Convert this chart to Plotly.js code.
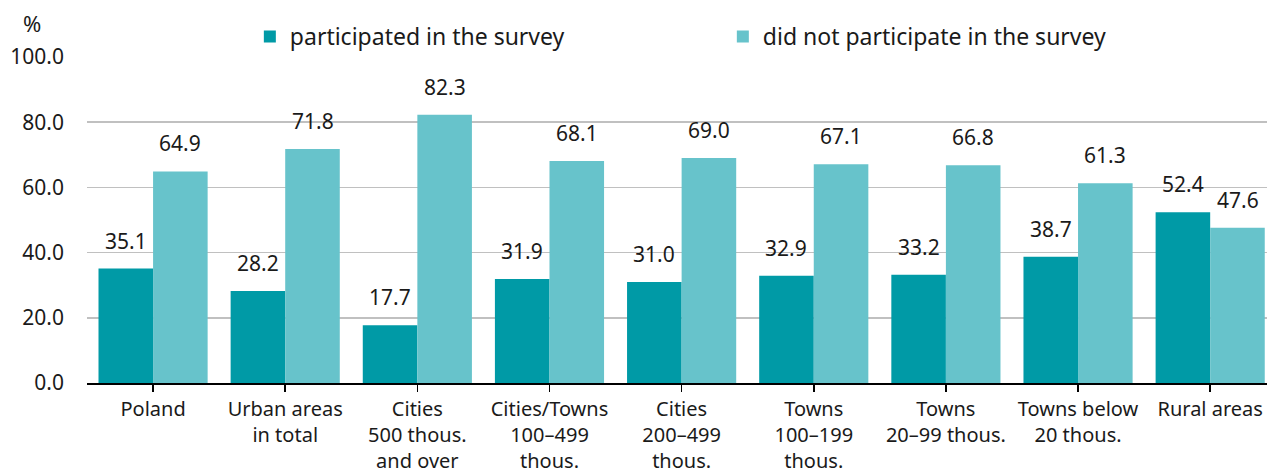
<!DOCTYPE html>
<html>
<head>
<meta charset="utf-8">
<script src="https://cdn.plot.ly/plotly-3.0.1.min.js"></script>
<style>html,body{margin:0;padding:0;background:#fff;}#chart{width:1267px;height:474px;}</style>
</head>
<body>
<div id="chart"></div>
<script>
const categories = [
  "Poland",
  "Urban areas<br>in total",
  "Cities<br>500 thous.<br>and over",
  "Cities/Towns<br>100–499<br>thous.",
  "Cities<br>200–499<br>thous.",
  "Towns<br>100–199<br>thous.",
  "Towns<br>20–99 thous.",
  "Towns below<br>20 thous.",
  "Rural areas"
];
const participated = [35.1, 28.2, 17.7, 31.9, 31.0, 32.9, 33.2, 38.7, 52.4];
const notParticipated = [64.9, 71.8, 82.3, 68.1, 69.0, 67.1, 66.8, 61.3, 47.6];
const seriesNames = ["participated in the survey", "did not participate in the survey"];
const yTicks = [0, 20, 40, 60, 80, 100];

const FONT = "'Noto Sans', Roboto, sans-serif";
const TXT = "#1a1a1a";
const DARK = "#009aa6";
const LIGHT = "#67c3cb";
const xIdx = categories.map((c, i) => i);
const OFF = 0.207;

const traces = [
  {type: "bar", name: seriesNames[0], x: xIdx, y: participated, marker: {color: DARK}, hoverinfo: "none"},
  {type: "bar", name: seriesNames[1], x: xIdx, y: notParticipated, marker: {color: LIGHT}, hoverinfo: "none"}
];

const annotations = [];
participated.forEach((v, i) => annotations.push({x: i - OFF, y: v, xref: "x", yref: "y", text: v.toFixed(1), showarrow: false, yanchor: "middle", yshift: 28, font: {family: FONT, size: 21, color: TXT}}));
notParticipated.forEach((v, i) => annotations.push({x: i + OFF, y: v, xref: "x", yref: "y", text: v.toFixed(1), showarrow: false, yanchor: "middle", yshift: 28, font: {family: FONT, size: 21, color: TXT}}));
annotations.push({xref: "paper", yref: "paper", x: -0.047, y: 1.105, text: "%", showarrow: false, xanchor: "center", yanchor: "middle", font: {family: FONT, size: 22, color: TXT}});

const layout = {
  width: 1267, height: 474,
  margin: {l: 87, r: 0, t: 57, b: 91},
  paper_bgcolor: "#fff", plot_bgcolor: "#fff",
  font: {family: FONT, size: 20, color: TXT},
  barmode: "group", bargap: 0.174, bargroupgap: 0,
  showlegend: true,
  legend: {orientation: "h", x: 0.138, xanchor: "left", y: 1.063, yanchor: "middle", font: {family: FONT, size: 23, color: TXT}, entrywidth: 428, entrywidthmode: "pixels", bgcolor: "rgba(0,0,0,0)"},
  xaxis: {
    range: [-0.5, 8.43], tickmode: "array", tickvals: xIdx, ticktext: categories,
    showgrid: false, zeroline: false, showline: true, linecolor: "#000", linewidth: 1.5,
    ticks: "outside", tickson: "boundaries", ticklen: 7, tickcolor: "#000", tickwidth: 1.5,
    tickfont: {family: FONT, size: 20, color: TXT}, fixedrange: true
  },
  yaxis: {
    range: [0, 100], tickmode: "array", tickvals: yTicks, ticktext: yTicks.map(v => v.toFixed(1)),
    showgrid: true, gridcolor: "#c0c0c0", gridwidth: 1.5, zeroline: false, showline: false,
    ticks: "", ticklabelstandoff: 22,
    tickfont: {family: FONT, size: 21, color: TXT}, fixedrange: true
  },
  annotations: annotations
};

Plotly.newPlot("chart", traces, layout, {displayModeBar: false, staticPlot: true});
</script>
</body>
</html>
